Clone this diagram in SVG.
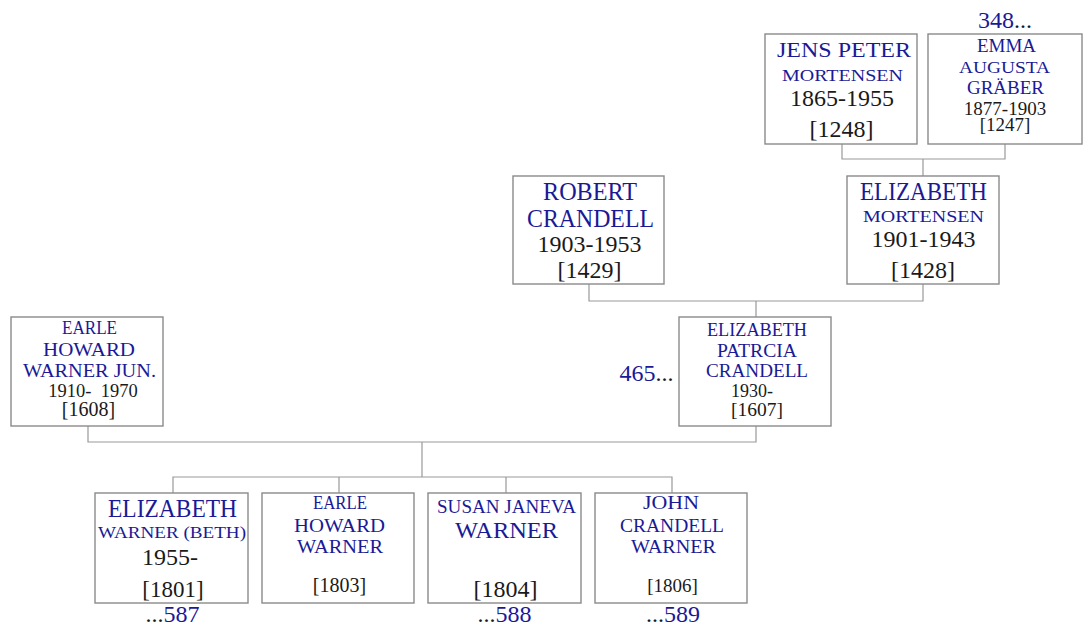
<svg xmlns="http://www.w3.org/2000/svg" width="1084" height="627" viewBox="0 0 1084 627">
<style>
text{font-family:"Liberation Serif","Times New Roman",serif;text-anchor:middle}
.n{fill:#1a1a96}
.d{fill:#1a1a1a}
.k{fill:#1a1a1a}
.box{fill:#fff;stroke:#8a8a8a;stroke-width:1.4}
.c{fill:none;stroke:#999;stroke-width:1.2}
</style>
<rect width="1084" height="627" fill="#fff"/>
<g id="connectors">
<path class="c" d="M842 144V159H1005V144M923 159V176"/>
<path class="c" d="M589 284V301H923V284M756 301V317"/>
<path class="c" d="M88 426V442H756V426M422 442V477"/>
<path class="c" d="M173 493V477H672V493M339 477V493M506 477V493"/>
</g>
<g id="jens">
<rect class="box" x="765" y="34" width="152" height="110"/>
<text class="n" x="844" y="57" font-size="21" textLength="134" lengthAdjust="spacingAndGlyphs">JENS PETER</text>
<text class="n" x="842.5" y="81" font-size="17" textLength="121" lengthAdjust="spacingAndGlyphs">MORTENSEN</text>
<text class="d" x="842" y="106" font-size="24">1865-1955</text>
<text class="d" x="841.5" y="137" font-size="24">[1248]</text>
</g>
<g id="emma">
<rect class="box" x="928" y="34" width="154" height="110"/>
<text x="1005" y="28" font-size="24"><tspan class="n">348</tspan><tspan class="k">...</tspan></text>
<text class="n" x="1006.5" y="52" font-size="18" textLength="59" lengthAdjust="spacingAndGlyphs">EMMA</text>
<text class="n" x="1004.5" y="73" font-size="17" textLength="91" lengthAdjust="spacingAndGlyphs">AUGUSTA</text>
<text class="n" x="1005.5" y="94" font-size="18" textLength="77" lengthAdjust="spacingAndGlyphs">GRÄBER</text>
<text class="d" x="1005" y="115" font-size="19">1877-1903</text>
<text class="d" x="1005" y="131" font-size="19">[1247]</text>
</g>
<g id="robert">
<rect class="box" x="513" y="176" width="151" height="108"/>
<text class="n" x="590" y="200" font-size="25" textLength="94" lengthAdjust="spacingAndGlyphs">ROBERT</text>
<text class="n" x="590.5" y="227" font-size="25" textLength="127" lengthAdjust="spacingAndGlyphs">CRANDELL</text>
<text class="d" x="589.5" y="252" font-size="24">1903-1953</text>
<text class="d" x="589.5" y="278" font-size="24">[1429]</text>
</g>
<g id="elizabeth-mortensen">
<rect class="box" x="847" y="176" width="152" height="108"/>
<text class="n" x="923.5" y="200" font-size="25" textLength="127" lengthAdjust="spacingAndGlyphs">ELIZABETH</text>
<text class="n" x="923.5" y="222" font-size="17" textLength="121" lengthAdjust="spacingAndGlyphs">MORTENSEN</text>
<text class="d" x="923.5" y="247" font-size="24">1901-1943</text>
<text class="d" x="923" y="278" font-size="24">[1428]</text>
</g>
<g id="earle-jun">
<rect class="box" x="11" y="317" width="152" height="109"/>
<text class="n" x="89.5" y="334" font-size="18" textLength="55" lengthAdjust="spacingAndGlyphs">EARLE</text>
<text class="n" x="89" y="356" font-size="18" textLength="92" lengthAdjust="spacingAndGlyphs">HOWARD</text>
<text class="n" x="89.5" y="377" font-size="18" textLength="133" lengthAdjust="spacingAndGlyphs">WARNER JUN.</text>
<text class="d" x="93" y="397" font-size="18.5" style="white-space:pre">1910-  1970</text>
<text class="d" x="88.5" y="416" font-size="20">[1608]</text>
</g>
<g id="elizabeth-patrcia">
<rect class="box" x="679" y="317" width="152" height="109"/>
<text class="n" x="757" y="336" font-size="18" textLength="100" lengthAdjust="spacingAndGlyphs">ELIZABETH</text>
<text class="n" x="757" y="357" font-size="18" textLength="80" lengthAdjust="spacingAndGlyphs">PATRCIA</text>
<text class="n" x="757" y="377" font-size="18" textLength="102" lengthAdjust="spacingAndGlyphs">CRANDELL</text>
<text class="d" x="752" y="397" font-size="18">1930-</text>
<text class="d" x="757" y="416" font-size="19.5">[1607]</text>
<text x="646.5" y="381" font-size="24"><tspan class="n">465</tspan><tspan class="k">...</tspan></text>
</g>
<g id="beth">
<rect class="box" x="95" y="493" width="153" height="110"/>
<text class="n" x="172.5" y="517" font-size="25" textLength="129" lengthAdjust="spacingAndGlyphs">ELIZABETH</text>
<text class="n" x="172" y="538" font-size="17" textLength="148" lengthAdjust="spacingAndGlyphs">WARNER (BETH)</text>
<text class="d" x="170" y="565" font-size="24">1955-</text>
<text class="d" x="173" y="597" font-size="23">[1801]</text>
<text x="172.5" y="622" font-size="24"><tspan class="k">...</tspan><tspan class="n">587</tspan></text>
</g>
<g id="earle">
<rect class="box" x="262" y="493" width="152" height="110"/>
<text class="n" x="340" y="509" font-size="18" textLength="54" lengthAdjust="spacingAndGlyphs">EARLE</text>
<text class="n" x="339.5" y="532" font-size="18" textLength="91" lengthAdjust="spacingAndGlyphs">HOWARD</text>
<text class="n" x="340" y="553" font-size="18" textLength="86" lengthAdjust="spacingAndGlyphs">WARNER</text>
<text class="d" x="339.5" y="592" font-size="20">[1803]</text>
</g>
<g id="susan">
<rect class="box" x="428" y="493" width="153" height="110"/>
<text class="n" x="506.5" y="513" font-size="18" textLength="139" lengthAdjust="spacingAndGlyphs">SUSAN JANEVA</text>
<text class="n" x="506.5" y="538" font-size="24" textLength="103" lengthAdjust="spacingAndGlyphs">WARNER</text>
<text class="d" x="505.5" y="597" font-size="24">[1804]</text>
<text x="504.5" y="622" font-size="24"><tspan class="k">...</tspan><tspan class="n">588</tspan></text>
</g>
<g id="john">
<rect class="box" x="595" y="493" width="152" height="110"/>
<text class="n" x="671" y="509" font-size="18" textLength="56" lengthAdjust="spacingAndGlyphs">JOHN</text>
<text class="n" x="672" y="532" font-size="18" textLength="104" lengthAdjust="spacingAndGlyphs">CRANDELL</text>
<text class="n" x="673.5" y="553" font-size="18" textLength="85" lengthAdjust="spacingAndGlyphs">WARNER</text>
<text class="d" x="672.5" y="592" font-size="19">[1806]</text>
<text x="673" y="622" font-size="24"><tspan class="k">...</tspan><tspan class="n">589</tspan></text>
</g>
</svg>
